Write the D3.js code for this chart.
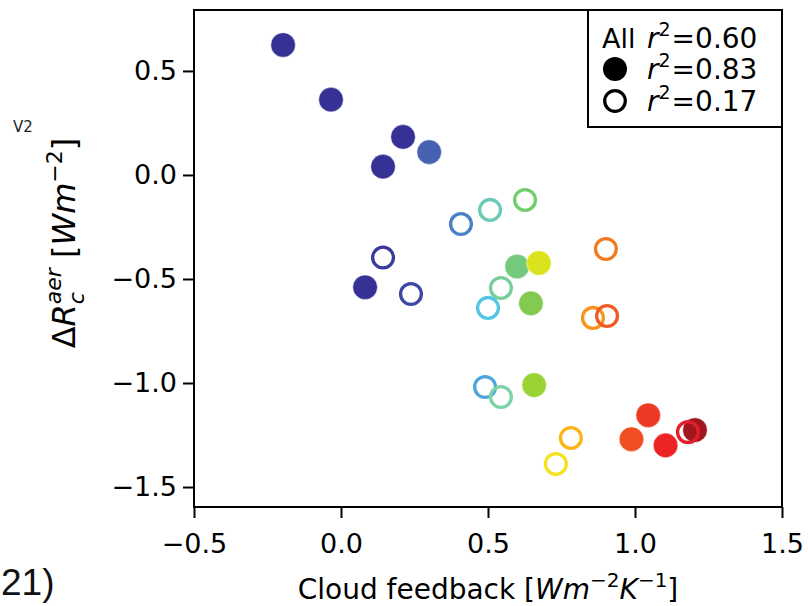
<!DOCTYPE html>
<html><head><meta charset="utf-8">
<script src="https://cdn.jsdelivr.net/npm/d3@7/dist/d3.min.js"></script>
<style>body{margin:0;background:#fff}</style>
</head><body>
<svg id="c" width="808" height="606"></svg>
<script>
const xTicks = [-0.5, 0.0, 0.5, 1.0, 1.5];
const yTicks = [0.5, 0.0, -0.5, -1.0, -1.5];
const filledX = [-0.197, -0.034, 0.211, 0.300, 0.143, 0.082, 0.599, 0.673, 0.646, 0.657, 1.045, 0.988, 1.104, 1.204];
const filledY = [0.625, 0.362, 0.183, 0.110, 0.040, -0.540, -0.440, -0.423, -0.617, -1.010, -1.155, -1.270, -1.300, -1.226];
const filledC = ["#363295","#363295","#363295","#4561b0","#363295","#363295","#75c97d","#dbe31d","#83cb50","#9bd334","#ee3a24","#f04e23","#ec2426","#a2171f"];
const openX = [0.143, 0.238, 0.408, 0.507, 0.626, 0.544, 0.500, 0.901, 0.857, 0.905, 0.490, 0.544, 0.782, 0.731, 1.180];
const openY = [-0.397, -0.572, -0.236, -0.168, -0.120, -0.543, -0.639, -0.356, -0.687, -0.678, -1.019, -1.067, -1.264, -1.389, -1.236];
const openC = ["#3a3a9c","#3c48a4","#4a80c8","#6ccab8","#6fcc6f","#77cf98","#52c7e5","#f47a1f","#f7941d","#f15a22","#4ea5dd","#7dd3a9","#fdb515","#f6e21c","#e11f2c"];
const legendLabels = ["All", "●", "○"];
const legendR2 = ["0.60", "0.83", "0.17"];

const FONT = "DejaVu Sans";
const svg = d3.select("#c");
const L = 194, R = 782, T = 10, B = 507;
const x = d3.scaleLinear().domain([-0.5, 1.5]).range([L, R]);
const y = d3.scaleLinear().domain([-1.596, 0.793]).range([B, T]);
const fmt = d => d3.format(".1f")(d).replace("-", "\u2212");

// clipped fragments of surrounding figure
svg.append("text").attr("x", 13).attr("y", 132).attr("font-family", FONT).attr("font-size", 15).attr("fill", "#222").text("V2");
svg.append("text").attr("x", 1).attr("y", 595).attr("font-family", "Liberation Sans").attr("font-size", 37).attr("fill", "#111").text("21)");

// points
const pts = svg.append("g");
pts.selectAll("circle.f").data(filledX.map((v, i) => ({x: v, y: filledY[i], c: filledC[i]})))
  .enter().append("circle").attr("class", "f")
  .attr("cx", d => x(d.x)).attr("cy", d => y(d.y)).attr("r", 12.3)
  .attr("fill", d => d.c).attr("stroke", "#fff").attr("stroke-width", 0.5);
pts.selectAll("circle.o").data(openX.map((v, i) => ({x: v, y: openY[i], c: openC[i]})))
  .enter().append("circle").attr("class", "o")
  .attr("cx", d => x(d.x)).attr("cy", d => y(d.y)).attr("r", 10.4)
  .attr("fill", "none").attr("stroke", d => d.c).attr("stroke-width", 3.3);

// axes
const xa = svg.append("g").attr("transform", `translate(0,${B})`)
  .call(d3.axisBottom(x).tickValues(xTicks).tickFormat(fmt).tickSize(11).tickSizeOuter(0));
const ya = svg.append("g").attr("transform", `translate(${L},0)`)
  .call(d3.axisLeft(y).tickValues(yTicks).tickFormat(fmt).tickSize(11).tickSizeOuter(0));
[xa, ya].forEach(a => {
  a.select(".domain").remove();
  a.selectAll(".tick line").attr("stroke", "#000").attr("stroke-width", 2);
  a.selectAll(".tick text").attr("font-family", FONT).attr("font-size", 27).attr("fill", "#000");
});
xa.selectAll(".tick text").attr("y", 27);
ya.selectAll(".tick text").attr("x", -17);

// frame
svg.append("rect").attr("x", L).attr("y", T).attr("width", R - L).attr("height", B - T)
  .attr("fill", "none").attr("stroke", "#000").attr("stroke-width", 2);

// x label
const xl = svg.append("text").attr("x", (L + R) / 2).attr("y", 599).attr("text-anchor", "middle")
  .attr("font-family", FONT).attr("font-size", 28).attr("fill", "#000");
xl.append("tspan").text("Cloud feedback [");
xl.append("tspan").attr("font-style", "italic").text("Wm");
xl.append("tspan").attr("font-size", 20).attr("dy", -12).text("\u22122");
xl.append("tspan").attr("font-style", "italic").attr("dy", 12).text("K");
xl.append("tspan").attr("font-size", 20).attr("dy", -12).text("\u22121");
xl.append("tspan").attr("dy", 12).text("]");

// y label (rotated)
const yg = svg.append("g").attr("transform", "translate(75,243) rotate(-90)");
const yl = yg.append("text").attr("font-family", FONT).attr("font-size", 32).attr("fill", "#000");
yl.append("tspan").text("\u0394");
yl.append("tspan").attr("font-style", "italic").text("R");
yl.append("tspan").attr("font-style", "italic").attr("font-size", 22).attr("dy", -14).attr("class", "sup").text("aer");
yl.append("tspan").attr("font-style", "italic").attr("font-size", 22).attr("dy", 23).attr("class", "sub").text("c");
yl.append("tspan").attr("dy", -9).attr("class", "after").text(" [");
yl.append("tspan").attr("font-style", "italic").text("Wm");
yl.append("tspan").attr("font-size", 22).attr("dy", -13).text("\u22122");
yl.append("tspan").attr("dy", 13).text("]");
const supW = yl.select(".sup").node().getComputedTextLength();
const subW = yl.select(".sub").node().getComputedTextLength();
yl.select(".sub").attr("dx", -supW);
yl.select(".after").attr("dx", supW - subW);
const bb = yl.node().getBBox();
yl.attr("x", -bb.width / 2);

// legend
const lg = svg.append("g");
lg.append("rect").attr("x", 588).attr("y", T).attr("width", R - 588).attr("height", 117)
  .attr("fill", "#fff").attr("stroke", "#000").attr("stroke-width", 2);
const rowY = [38, 69, 101];
legendLabels.forEach((lab, i) => {
  if (i === 0) {
    lg.append("text").attr("x", 602).attr("y", rowY[i] + 10).attr("font-family", FONT).attr("font-size", 27).text(lab);
  } else if (i === 1) {
    lg.append("circle").attr("cx", 615).attr("cy", rowY[i]).attr("r", 12).attr("fill", "#000");
  } else {
    lg.append("circle").attr("cx", 615).attr("cy", rowY[i]).attr("r", 10.3).attr("fill", "none").attr("stroke", "#000").attr("stroke-width", 3.2);
  }
  const t = lg.append("text").attr("x", 647).attr("y", rowY[i] + 10).attr("font-family", FONT).attr("font-size", 28).attr("fill", "#000");
  t.append("tspan").attr("font-style", "italic").text("r");
  t.append("tspan").attr("font-size", 19).attr("dy", -12).text("2");
  t.append("tspan").attr("dy", 12).attr("dx", 1).text("=" + legendR2[i]);
});
</script>
</body></html>
